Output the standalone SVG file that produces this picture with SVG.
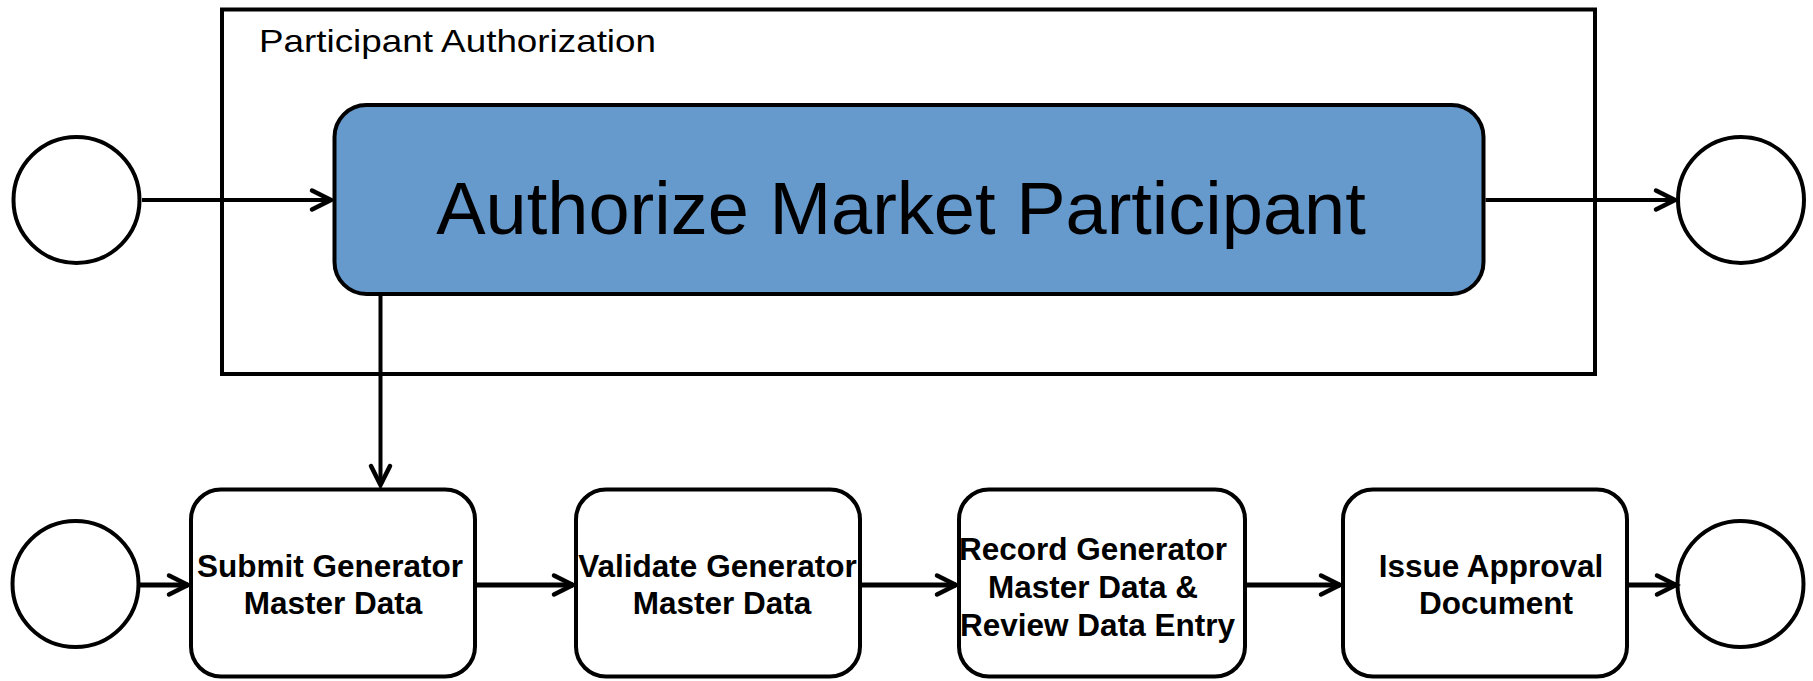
<svg xmlns="http://www.w3.org/2000/svg" width="1813" height="681" viewBox="0 0 1813 681">
<style>
.ln{fill:none;stroke:#000;stroke-width:4}
.lnb{fill:none;stroke:#000;stroke-width:5}
.ev{fill:#fff;stroke:#000;stroke-width:4}
.task{fill:#fff;stroke:#000;stroke-width:4}
.tt{font-family:"Liberation Sans",Arial,sans-serif;font-weight:bold;font-size:31.5px;fill:#000;text-anchor:middle}
</style>
<defs>
<marker id="ah" markerUnits="userSpaceOnUse" markerWidth="30" markerHeight="30" refX="0" refY="0" orient="auto" overflow="visible">
<path d="M -19 -9.5 L 0 0 L -19 9.5" fill="none" stroke="#000" stroke-width="4.5" stroke-linecap="round" stroke-linejoin="miter"/>
</marker>
</defs>
<rect width="1813" height="681" fill="#fff"/>
<g id="pool">
<rect x="222" y="9.5" width="1373" height="364.5" fill="none" stroke="#000" stroke-width="4"/>
<text x="259" y="52" font-family="Liberation Sans,Arial,sans-serif" font-size="32" textLength="397" lengthAdjust="spacingAndGlyphs">Participant Authorization</text>
</g>
<g id="start-top"><circle cx="76.5" cy="200" r="63" class="ev"/></g>
<g id="end-top"><circle cx="1741" cy="200" r="63" class="ev"/></g>
<g id="authorize">
<rect x="334.5" y="105" width="1149" height="189" rx="32" ry="32" fill="#6699CC" stroke="#000" stroke-width="4"/>
<text x="901" y="234" font-family="Liberation Sans,Arial,sans-serif" font-size="74" text-anchor="middle">Authorize Market Participant</text>
</g>
<g id="start-bottom"><circle cx="75.5" cy="584" r="63" class="ev"/></g>
<g id="end-bottom"><circle cx="1740.5" cy="584" r="63" class="ev"/></g>
<g id="submit">
<rect x="191" y="489.5" width="284" height="187" rx="30" ry="30" class="task"/>
<text class="tt" x="330" y="577">Submit Generator</text>
<text class="tt" x="333" y="614">Master Data</text>
</g>
<g id="validate">
<rect x="576" y="489.5" width="284" height="187" rx="30" ry="30" class="task"/>
<text class="tt" x="717.5" y="577">Validate Generator</text>
<text class="tt" x="722" y="614">Master Data</text>
</g>
<g id="record">
<rect x="959" y="489.5" width="286" height="187" rx="30" ry="30" class="task"/>
<text class="tt" x="1093" y="560">Record Generator</text>
<text class="tt" x="1093" y="598">Master Data &amp;</text>
<text class="tt" x="1097.5" y="635.5">Review Data Entry</text>
</g>
<g id="issue">
<rect x="1343" y="489.5" width="284" height="187" rx="30" ry="30" class="task"/>
<text class="tt" x="1491" y="577">Issue Approval</text>
<text class="tt" x="1496" y="614">Document</text>
</g>
<g id="connectors">
<line x1="142" y1="200" x2="331" y2="200" class="ln" marker-end="url(#ah)"/>
<line x1="1485.5" y1="200" x2="1675" y2="200" class="ln" marker-end="url(#ah)"/>
<line x1="380.5" y1="296" x2="380.5" y2="485" class="ln" marker-end="url(#ah)"/>
<line x1="139.5" y1="585" x2="188" y2="585" class="lnb" marker-end="url(#ah)"/>
<line x1="477" y1="585" x2="573" y2="585" class="lnb" marker-end="url(#ah)"/>
<line x1="862" y1="585" x2="956" y2="585" class="lnb" marker-end="url(#ah)"/>
<line x1="1247" y1="585" x2="1340" y2="585" class="lnb" marker-end="url(#ah)"/>
<line x1="1629" y1="585" x2="1676" y2="585" class="lnb" marker-end="url(#ah)"/>
</g>
</svg>
